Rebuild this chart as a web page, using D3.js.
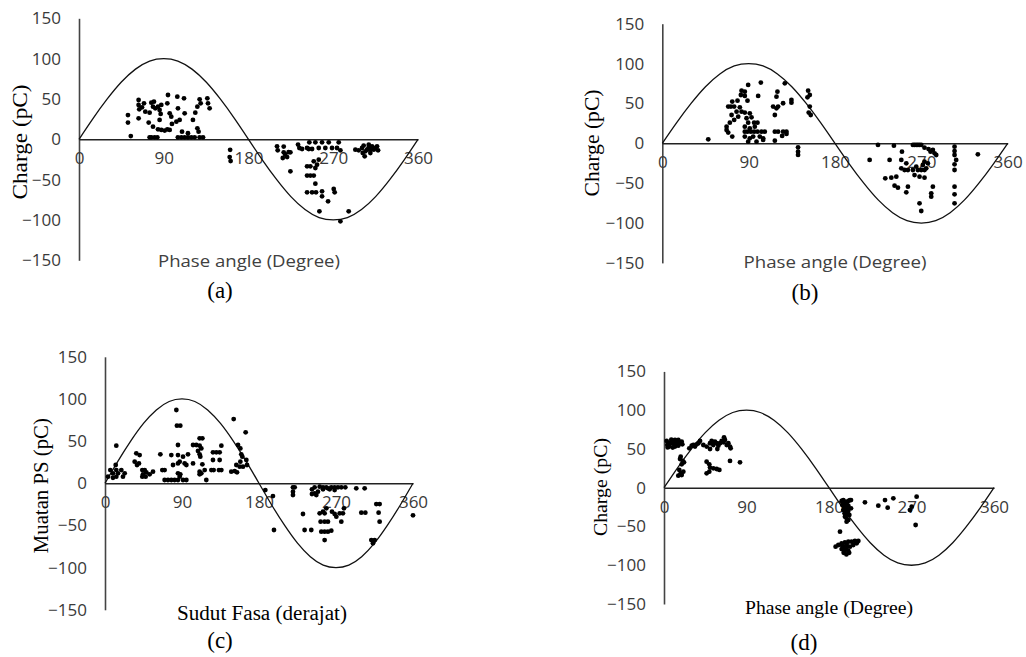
<!DOCTYPE html>
<html>
<head>
<meta charset="utf-8">
<script src="https://cdn.jsdelivr.net/npm/d3@7/dist/d3.min.js"></script>
<style>
  html, body { margin: 0; padding: 0; background: #fff; }
  svg { display: block; }
</style>
</head>
<body>
<svg id="chart" width="1026" height="657"></svg>
<script>
// ---------------- DATA ----------------
const xTicks = [0, 90, 180, 270, 360];
const yTicks = [-150, -100, -50, 0, 50, 100, 150];

// reference sine wave (pC) read at 15° steps
const sineAngles = [0,15,30,45,60,75,90,105,120,135,150,165,180,195,210,225,240,255,270,285,300,315,330,345,360];
const sineValues = [0,26,50,71,87,97,100,97,87,71,50,26,0,-26,-50,-71,-87,-97,-100,-97,-87,-71,-50,-26,0];

// (a) [phase angle (deg), charge (pC)]
const pointsA = [
 [52,30],[52,20.7],[55,4],
 [63.3,48.7],[63.3,42.5],[64,37.2],[63.3,26],
 [66.9,39.7],[69,44.6],[70.4,34.3],[75,33],[76.8,45.4],[79.6,46.7],[78.6,40.5],[81,38.4],[83.9,40.5],[85.6,36.4],[87.4,42.6],[86.7,31.4],
 [94.5,54.9],[93.8,44.6],[96.3,32.2],[98,28.1],[104.4,52.9],[105.1,38.4],[106.9,24],[111.5,50.8],[112.2,32.2],
 [121,24],[123.5,33],[125.7,40.5],[128.1,49.6],[129.2,44.6],[136.3,50.8],[138.7,38.4],[137,44.6],
 [74,20.7],[78.6,15.7],[85.6,24],[87.4,11.6],[91,10.8],[93.8,12.4],[96.3,11.6],[98.7,19],[103.4,21.9],[83.9,12.4],[125.7,13.6],[127,9.5],
 [75,2.5],[76.8,2.5],[80.3,2.5],[83.2,2.5],[105,2.5],[108.7,2.5],[112.2,2.5],[115.7,2.5],[119.3,2.5],[122.8,2.5],[128.1,2.5],[131.7,2.5],
 [109.4,9.5],[115.7,7.5],
 [160.5,-13],[160,-22],[161,-27],
 [210.3,-8.7],[211,-13.7],[217.4,-9],[217.4,-16.2],[219,-19],[221,-22],[222.6,-16],[224.5,-16.2],[216.4,-23.2],
 [224.5,-39.7],
 [232.6,-6.5],[234,-10.8],[236.9,-12],[242.2,-10.8],[244.6,-3.8],[247.5,-12],[251,-3.8],[254.6,-10.8],[258.1,-3.8],[261.6,-10.8],[265.2,-3.8],[268.7,-10.8],[275.8,-3.8],[274,-10.8],[277.6,-13.7],[244,-12],
 [242.2,-33.5],[245.7,-33.5],[252.8,-31.5],[251,-35.6],[249.3,-27.3],[254.6,-25.2],[242.2,-45],[245.7,-45],[249.3,-45],[251,-55],[242.2,-65.7],[247.5,-65.7],[251.7,-65.7],[258.1,-64.5],[258.1,-70.7],[264.5,-76.9],[270.5,-61.6],[271.5,-65.7],[255.3,-89.3],[286.4,-89.3],[277.6,-101.7],
 [293.5,-12.9],[297,-13.7],[300.6,-10.8],[302.3,-7.8],[304.1,-14.9],[305.9,-12.9],[307.7,-10],[309.4,-12.9],[311.2,-8.7],[313,-12.9],[314.7,-10.8],[316.5,-8.7],[317.6,-13.7],[301.3,-17],[303.4,-21.1],[309.4,-17],[307.7,-6.7]
];

// (b)
const pointsB = [
 [47.9,5],[89.5,73.2],[102.7,76.1],[82.6,66],[86,64.8],[81.9,60.6],[86,59.4],[88.8,53.5],[78.4,53.5],[72.9,52.3],
 [68.7,46],[71.5,46],[74.9,46],[80.8,45.1],[77.4,39.7],[82.6,39.7],[86,38.5],[91.2,37.6],[93,32.6],[87.8,31.4],[79.1,33.4],[72.2,35.5],
 [74.9,29.3],[70.4,25.9],[67,20.9],[67,16.7],[68.7,13.4],[72.9,8.4],[99.9,59.4],[95.7,25.9],[99.2,25.9],[89.5,25.9],
 [120,64.8],[119,58.5],[127.7,75.2],[125.9,50.2],[120.7,46],[115.5,46],[119,43.9],[117.3,35.5],[134.6,54.3],[134.6,51],
 [152,66],[153.7,60.6],[151.3,57.7],[153.7,46],[152.6,38.5],[154.7,35.5],
 [86,14.6],[88.8,14.6],[92.3,14.6],[95.7,14.6],[99.2,14.6],[103.4,14.6],[106.8,14.6],
 [86,8.4],[91.2,6.3],[94.7,8.4],[101.6,8.4],[105.1,6.3],[89.5,2.1],[98.2,2.1],[105.1,4.2],
 [117.3,14.6],[120.7,14.6],[125.9,14.6],[129.4,14.6],[124.9,9.2],[129.4,11.7],[117.3,3.3],
 [86,20.9],[91.2,18.8],[96.4,20.9],
 [141.5,-5],[141.5,-10.5],[141.5,-14.6],
 [224.8,-2.1],[241.4,-3],[261.2,-2.1],[262.9,-2.1],[264.7,-2.1],[266.4,-2.1],[268.1,-2.1],[269.9,-2.1],
 [273.3,-5.5],[277.5,-7.2],[282,-8.4],[283.8,-12.6],[285.5,-14.7],[279.6,-10.5],
 [304.6,-4.2],[304.6,-9.7],[304.6,-14.7],[306.3,-20.9],[304.6,-26.4],[304.6,-33.5],[328.9,-13.8],
 [216.1,-20.9],[236.9,-20.9],[249.8,-10.5],[249.1,-20.9],[254.3,-25.1],[249.1,-31.4],
 [252.5,-33.5],[256,-33.5],[261.2,-33.5],[266.4,-33.5],[269.9,-33.5],[273.3,-33.5],
 [264.7,-29.3],[271.6,-27.2],[275.1,-31.4],[262.9,-39.8],[268.1,-41.9],[273.3,-43.1],
 [232.4,-43.9],[238.7,-43.1],[243.9,-41.9],[242.1,-53.1],[245.6,-55.6],[256,-54.4],[254.3,-61.5],
 [282,-54.4],[280.3,-62.8],[280.3,-66.9],[268.1,-75.3],[269.9,-84.9],
 [304.6,-54.4],[304.6,-64],[304.6,-75.3],[273.3,-23],[276.8,-25.1]
];

// (c)
const pointsC = [
 [83.4,86.9],[84.1,68.3],[88,68.3],[150.4,76.2],[164.4,60.4],[13.2,44.6],[110.6,53.3],[113.8,53.3],
 [102.9,45.4],[106.7,45.4],[110.6,44.6],[112.6,41.4],[108.7,38.3],[110.6,34.3],[111.4,31.6],[85.3,45.4],[136,44.6],
 [155.5,45.4],[158.2,41.4],[159.3,34.3],[160.5,31.6],[158.2,25.6],[165.2,27.6],[166,21.7],[157.4,19.7],[161.3,19.7],[153.5,21.7],
 [126.2,36.7],[130.1,36.7],[134,36.7],[126.2,27.6],[134,27.6],
 [36.6,35.5],[40.5,33.5],[34.7,25.6],[37.4,21.7],[39.7,23.6],
 [64.7,34.3],[77.5,33.5],[85.3,33.5],[91.2,31.6],[97,34.3],
 [87.3,25.6],[79.5,21.7],[85.3,23.6],[93.1,23.6],[95.1,21.7],[102.9,23.6],
 [113.8,22.5],[110.6,13.8],[112.6,11.8],[116.5,15.7],[110.6,10.6],
 [133.2,15.7],[136,15.7],[124.3,15.7],[127,15.7],[118.4,3.9],
 [6.2,15.7],[9.3,11.8],[13.2,15.7],[15.2,11.8],[19.1,15.7],[23,11.8],[21,7.8],[13.2,7.8],[9.3,6.6],[3.5,7.8],[12.5,21.7],
 [43.6,15.7],[46.4,15.7],[48.3,13],[44.4,10.6],[47.5,7.8],[43.6,7.8],[52.2,10.6],[56.1,13.8],[67,15.7],[69.7,15.7],
 [69.7,3.9],[73.6,3.9],[77.5,3.9],[81.4,3.9],[85.3,3.9],[91.2,3.9],[87.3,7.8],[95.1,3.9],[85.3,11.8],[88,10.6],
 [147.6,13.8],[151.6,14.5],[154.3,13],
 [187.4,-8],[196.3,-15.1],[197.5,-55.4],
 [219.7,-4.8],[219.7,-9.9],[219.7,-13.9],[221.7,-4.8],
 [231.4,-36.4],[233.3,-55.4],[241.1,-55.4],
 [241.9,-7.2],[245,-11.9],[241.9,-12.7],[247,-13.9],[248.9,-9.9],[245,-4.8],
 [250.9,-4],[254.8,-4.8],[258.7,-4.8],[260.6,-6],[264.5,-4.8],[268.4,-4.8],[272.3,-4.8],[276.2,-4.8],[280.9,-4.8],[254.8,-7.2],[262.6,-7.2],[268.4,-8],
 [293.7,-6],[303.5,-6],
 [250.9,-35.6],[254.8,-33.7],[256.7,-35.6],[258.7,-29.7],[252,-45.5],[256.7,-45.5],[260.6,-45.5],[270.4,-39.6],[268.4,-36.4],[265.3,-33.7],[274.3,-35.6],[278.1,-35.6],[279.3,-29.7],[276.2,-45.5],
 [252.8,-57.4],[256.7,-57.4],[260.6,-57.4],[264.5,-56.2],[256.7,-67.3],
 [299.6,-34.8],[304.3,-34.8],[317.1,-24.6],[321,-24.6],[319.8,-34.8],[321,-45.5],
 [311.3,-67.3],[315.2,-67.3],[313.2,-71.2],[360,-38]
];

// (d)
const pointsD = [
 [2.9,60.3],[3.6,55.1],[5.8,53],[8.4,57.3],[10.2,60.3],[12,61.5],[13.8,59.4],[15.6,61.5],[17.5,57.3],[19.3,59.4],[15.6,54.2],[12,53],[9.5,51.7],
 [6,58],[11,56],[14,55],[17,59],[20,56],[8,62],[4,52],
 [18.2,40],[17.5,37],[20.4,34.5],[21.8,32.7],[19.3,30.1],
 [16.7,22.9],[18.2,18.6],[15.6,15.5],[19.3,16.4],[21.1,20.7],
 [27.6,50.8],[30.2,54.2],[32,55.1],[33.8,53],[35.6,56],[37.5,57.3],[39.3,60.3],[42.9,55.1],[46.5,53],[50.2,57.3],[52,60.3],[53.8,55.1],[55.6,59.4],[57.5,57.3],[59.3,54.2],[61.1,57.3],[62.9,60.3],[64.7,58.5],[66.5,61.5],[68.4,55.1],[70.2,57.3],[72,53],[72.7,50.8],[58.2,49.9],[50.2,49.9],[65.5,65],
 [46.5,33.6],[49.4,30.1],[50.2,25.9],[53.8,25],[57.5,24.1],[60.4,22.9],[46.5,18.6],[49.4,20.7],
 [72,34.5],[82.9,32.7],
 [193.8,-17.1],[195.6,-15.9],[197.4,-18],[199.2,-20.2],[201.1,-17.1],[202.9,-15.9],[194.5,-22.3],[196.7,-24.5],[199.2,-26.6],[201.1,-23.2],
 [195.6,-28.8],[198.2,-30.9],[200.3,-33.1],[197.4,-37.4],[199.2,-39.5],[201.1,-41.7],[199.2,-43.8],[196.7,-20.2],[204,-26.6],[202.2,-35.2],
 [196,-21],[198,-19],[200,-28],[197,-33],[201,-30],[199,-35],[198,-24],
 [192,-56.7],
 [187.2,-76],[190.2,-73.9],[193.8,-71.8],[197.4,-70.5],[201.1,-69.6],[204.7,-69.6],[208.3,-68.7],[212,-68.7],[195.6,-76],[199.2,-77.3],[202.9,-76],[206.5,-73.9],[197.4,-80.4],[201.1,-81.6],[193.8,-79.1],[199.2,-73],[210.2,-71.8],
 [196,-84],[199,-86],[202,-84],[194,-74],
 [204,-15.9],[219.2,-18.9],[233.8,-23.2],[241.1,-15.9],[244,-25.7],[250.2,-13.7],[268.3,-28.8],[275.6,-11.6],[274.5,-48.1],[270.2,-24.5]
];

const captions = ["(a)", "(b)", "(c)", "(d)"];
const xTitles = ["Phase angle (Degree)", "Phase angle (Degree)", "Sudut Fasa (derajat)", "Phase angle (Degree)"];
const yTitles = ["Charge (pC)", "Charge (pC)", "Muatan PS (pC)", "Charge (pC)"];

// ---------------- LAYOUT ----------------
const SANS = "'Open Sans', 'DejaVu Sans', sans-serif";
const SERIF = "'Liberation Serif', 'Times New Roman', serif";

const panels = [
  { pts: pointsA, left: 79,    right: 418,    top: 18.3,  bottom: 260.3,
    xt: {x: 249, y: 260, w: 182, font: SANS, size: 17, color: "#404040"},
    yt: {x: 19.5, y: 142, w: 115, size: 20},
    cap: {x: 220, y: 290} },
  { pts: pointsB, left: 662.3, right: 1007.7, top: 23.7,  bottom: 262.9,
    xt: {x: 835, y: 261, w: 183, font: SANS, size: 17, color: "#404040"},
    yt: {x: 592, y: 143, w: 107, size: 20},
    cap: {x: 805, y: 292} },
  { pts: pointsC, left: 105,   right: 413,    top: 356.8, bottom: 609.8,
    xt: {x: 262, y: 613, w: 170, font: SERIF, size: 20, color: "#000"},
    yt: {x: 40.7, y: 485.7, w: 135, size: 20},
    cap: {x: 220, y: 640} },
  { pts: pointsD, left: 664,   right: 994,    top: 371.4, bottom: 604,
    xt: {x: 829, y: 607, w: 168, font: SERIF, size: 19.5, color: "#000"},
    yt: {x: 600, y: 487, w: 98, size: 19.5},
    cap: {x: 804, y: 642} }
];

const svg = d3.select("#chart");

panels.forEach((p, i) => {
  const x = d3.scaleLinear().domain([0, 360]).range([p.left, p.right]);
  const y = d3.scaleLinear().domain([-150, 150]).range([p.bottom, p.top]);
  const g = svg.append("g");

  // y axis spine (no ticks)
  const yAxis = d3.axisLeft(y).tickValues(yTicks).tickSize(0).tickPadding(18);
  const ya = g.append("g").attr("transform", `translate(${x(0)},0)`).call(yAxis);
  ya.select(".domain").attr("stroke", "#444").attr("stroke-width", 1.6);
  ya.selectAll("text").attr("font-family", SANS).attr("font-size", 17).attr("fill", "#3a3a3a");

  // x axis at charge 0, labels below
  const xAxis = d3.axisBottom(x).tickValues(xTicks).tickSize(0).tickPadding(13);
  const xa = g.append("g").attr("transform", `translate(0,${y(0)})`).call(xAxis);
  xa.select(".domain").attr("stroke", "#222").attr("stroke-width", 1.4);
  xa.selectAll("text").attr("font-family", SANS).attr("font-size", 17).attr("fill", "#3a3a3a");

  // sine reference
  const line = d3.line().x(d => x(d[0])).y(d => y(d[1])).curve(d3.curveNatural);
  g.append("path")
    .datum(sineAngles.map((a, k) => [a, sineValues[k]]))
    .attr("d", line).attr("fill", "none").attr("stroke", "#111").attr("stroke-width", 1.3);

  // scatter
  g.append("g").selectAll("circle").data(p.pts).join("circle")
    .attr("cx", d => x(d[0])).attr("cy", d => y(d[1])).attr("r", 2.4).attr("fill", "#000");

  // x title
  g.append("text").text(xTitles[i])
    .attr("x", p.xt.x).attr("y", p.xt.y).attr("text-anchor", "middle").attr("dominant-baseline", "central")
    .attr("font-family", p.xt.font).attr("font-size", p.xt.size).attr("fill", p.xt.color)
    .attr("textLength", p.xt.w).attr("lengthAdjust", "spacingAndGlyphs");

  // y title
  g.append("text").text(yTitles[i])
    .attr("transform", `translate(${p.yt.x},${p.yt.y}) rotate(-90)`)
    .attr("text-anchor", "middle").attr("dominant-baseline", "central")
    .attr("font-family", SERIF).attr("font-size", p.yt.size).attr("fill", "#000")
    .attr("textLength", p.yt.w).attr("lengthAdjust", "spacingAndGlyphs");

  // caption
  g.append("text").text(captions[i])
    .attr("x", p.cap.x).attr("y", p.cap.y).attr("text-anchor", "middle").attr("dominant-baseline", "central")
    .attr("font-family", SERIF).attr("font-size", 23).attr("fill", "#000");
});
</script>
</body>
</html>
